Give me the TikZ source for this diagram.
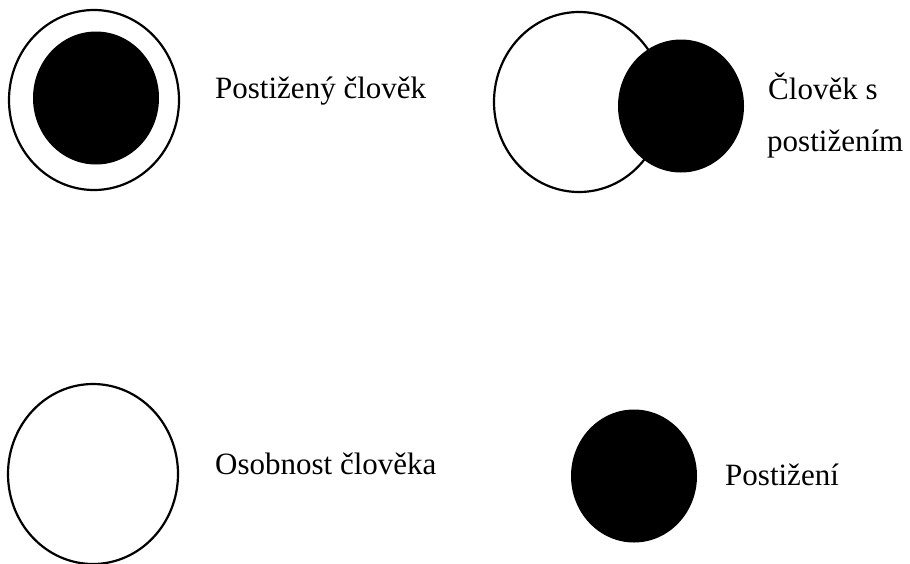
\documentclass[tikz,border=0pt]{standalone}
\usepackage{fontspec}
\setmainfont{Liberation Serif}
\usetikzlibrary{shapes.geometric}
\begin{document}
\begin{tikzpicture}[x=1pt,y=-1pt,
  ring/.style={ellipse,draw=black,line width=2.2pt,fill=white,inner sep=0pt,minimum width=170pt,minimum height=180pt},
  blob/.style={ellipse,fill=black,inner sep=0pt,minimum width=126pt,minimum height=133pt},
  lbl/.style={anchor=base west,inner sep=0pt,font=\fontsize{31}{36}\selectfont}]
\useasboundingbox (0,0) rectangle (910,563);
% top left
\node[ring] (o1) at (94,100) {};
\node[blob] (b1) at (96,98) {};
\node[lbl] (t1) at (215,98) {Postižený člověk};
% top right
\node[ring] (o2) at (579,102) {};
\node[blob] (b2) at (681,106) {};
\node[lbl] (t2) at (768,99) {Člověk s};
\node[lbl] (t3) at (767,151) {postižením};
% bottom left
\node[ring] (o3) at (93,474) {};
\node[lbl] (t4) at (215,474) {Osobnost člověka};
% bottom right
\node[blob] (b3) at (634,476) {};
\node[lbl] (t5) at (725,485) {Postižení};
\end{tikzpicture}
\end{document}
